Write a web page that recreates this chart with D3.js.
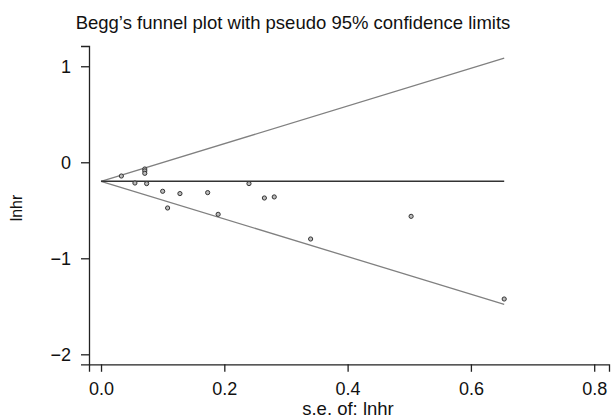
<!DOCTYPE html>
<html lang="en">
<head>
<meta charset="UTF-8">
<title>Begg's funnel plot</title>
<script src="https://d3js.org/d3.v7.min.js"></script>
<style>
body { margin: 0; background: #fff; }
text { font-family: "Liberation Sans", Arial, sans-serif; fill: #111; }
</style>
</head>
<body>
<div id="container"></div>
<script>
// study points
const se = [0.033, 0.055, 0.071, 0.071, 0.071, 0.074, 0.100, 0.108, 0.128, 0.173, 0.190, 0.240, 0.265, 0.281, 0.340, 0.503, 0.654];
const lnhr = [-0.143, -0.216, -0.07, -0.09, -0.115, -0.222, -0.302, -0.476, -0.326, -0.316, -0.542, -0.222, -0.372, -0.361, -0.799, -0.563, -1.424];
const pooled = -0.198;
const seMax = 0.654;
const xTicks = [0, 0.2, 0.4, 0.6, 0.8];
const yTicks = [-2, -1, 0, 1];

const width = 613, height = 418;

const svg = d3.select("#container").append("svg")
  .attr("width", width).attr("height", height);

const x = d3.scaleLinear().domain([-0.0195, 0.824]).range([89, 609]);
const y = d3.scaleLinear().domain([-2.104, 1.211]).range([364.3, 46]);

// axes
svg.append("g")
  .attr("transform", `translate(0,${y.range()[0]})`)
  .call(d3.axisBottom(x).tickValues(xTicks).tickFormat(d3.format(".1f")).tickSizeOuter(0).tickSize(7.5).tickPadding(10));
svg.append("g")
  .attr("transform", `translate(${x.range()[0]},0)`)
  .call(d3.axisLeft(y).tickValues(yTicks).tickFormat(d3.format("d")).tickSizeOuter(0).tickSize(8).tickPadding(10));

svg.selectAll(".domain, .tick line").attr("stroke", "#222").attr("stroke-width", 1.3);
svg.selectAll(".tick text").style("font-size", "18px").attr("fill", "#111");

// funnel limits
const lim = [
  { a: [0, pooled], b: [seMax, pooled + 1.96 * seMax] },
  { a: [0, pooled], b: [seMax, pooled - 1.96 * seMax] }
];
svg.selectAll("line.lim").data(lim).join("line")
  .attr("class", "lim")
  .attr("x1", d => x(d.a[0])).attr("y1", d => y(d.a[1]))
  .attr("x2", d => x(d.b[0])).attr("y2", d => y(d.b[1]))
  .attr("stroke", "#808080").attr("stroke-width", 1.3);

// pooled estimate
svg.append("line")
  .attr("x1", x(0)).attr("x2", x(seMax))
  .attr("y1", y(pooled)).attr("y2", y(pooled))
  .attr("stroke", "#333").attr("stroke-width", 1.6);

// points
svg.selectAll("circle").data(se.map((s, i) => ({ s, v: lnhr[i] }))).join("circle")
  .attr("cx", d => x(d.s)).attr("cy", d => y(d.v))
  .attr("r", 2.1)
  .attr("fill", "#bbb").attr("stroke", "#333").attr("stroke-width", 1);

// titles
svg.append("text")
  .attr("x", 293).attr("y", 29)
  .attr("text-anchor", "middle")
  .style("font-size", "18.5px")
  .text("Begg\u2019s funnel plot with pseudo 95% confidence limits");

svg.append("text")
  .attr("x", 348).attr("y", 415)
  .attr("text-anchor", "middle")
  .style("font-size", "18.5px")
  .text("s.e. of: lnhr");

svg.append("text")
  .attr("transform", "translate(22,208) rotate(-90)")
  .attr("text-anchor", "middle")
  .style("font-size", "16px")
  .text("lnhr");
</script>
</body>
</html>
